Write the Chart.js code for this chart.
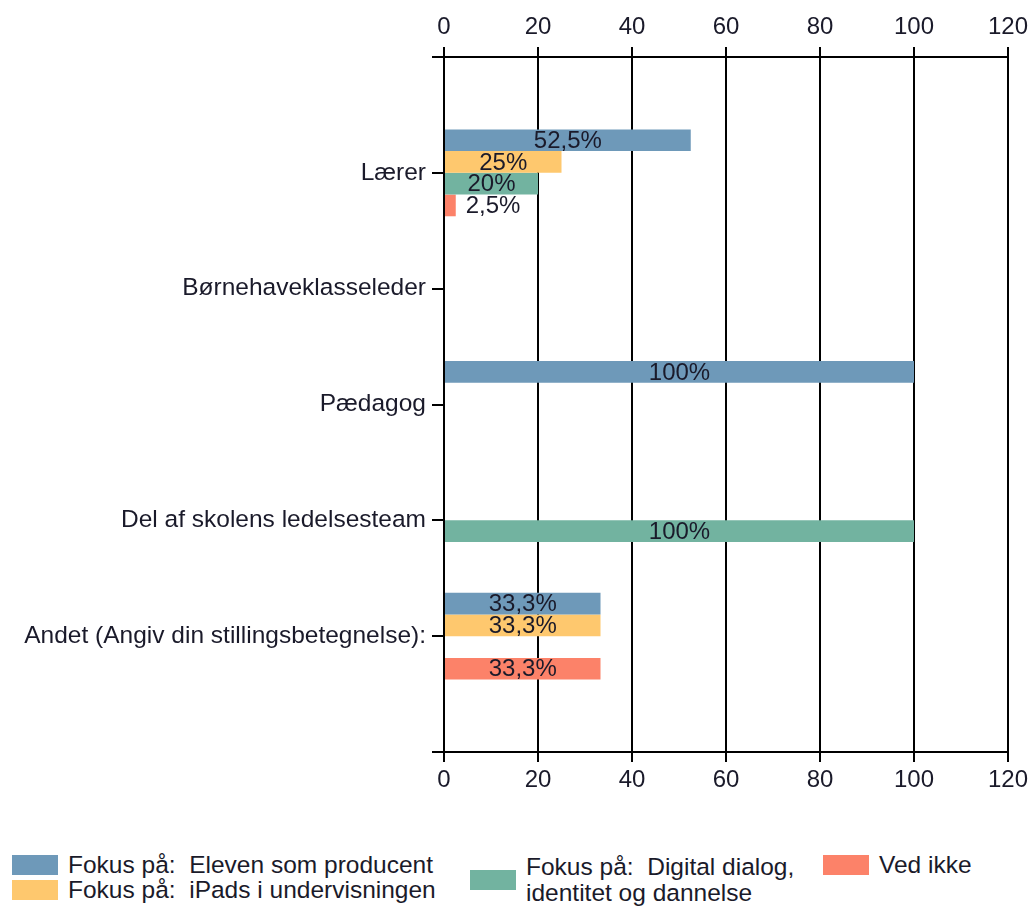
<!DOCTYPE html>
<html>
<head>
<meta charset="utf-8">
<script src="https://cdn.jsdelivr.net/npm/chart.js@4"></script>
<style>
  body { margin: 0; background: #fff; font-family: "Liberation Sans", Arial, sans-serif; }
  #wrap { position: relative; width: 1034px; height: 907px; }
  #box { position: absolute; left: 0; top: 0; width: 1034px; height: 815px; }
  #legend { position: absolute; left: 0; top: 850px; width: 1034px; height: 57px; font-size: 24.5px; color: #1a1a2a; }
  .item { position: absolute; display: flex; align-items: flex-start; line-height: 26px; white-space: pre; }
  .sw { width: 46px; height: 20px; margin-right: 10px; margin-top: 3px; flex: none; }
</style>
</head>
<body>
<div id="wrap">
  <div id="box"><canvas id="chart"></canvas></div>
  <div id="legend"></div>
</div>
<script>
const categories = ["Lærer", "Børnehaveklasseleder", "Pædagog", "Del af skolens ledelsesteam", "Andet (Angiv din stillingsbetegnelse):"];
const seriesNames = ["Fokus på:  Eleven som producent", "Fokus på:  iPads i undervisningen", "Fokus på:  Digital dialog,\nidentitet og dannelse", "Ved ikke"];
const elevenSomProducent = [52.5, 0, 100, 0, 33.3];
const iPadsIUndervisningen = [25, 0, 0, 0, 33.3];
const digitalDialog = [20, 0, 0, 100, 0];
const vedIkke = [2.5, 0, 0, 0, 33.3];
const colors = ["#6e99b9", "#fec86e", "#72b3a0", "#fc8269"];
const xTicks = [0, 20, 40, 60, 80, 100, 120];

// empty slots at both ends so the categories sit one step in from the axes
const labels = [""].concat(categories, [""]);
const pad = arr => [null].concat(arr, [null]);
const allSeries = [elevenSomProducent, iPadsIUndervisningen, digitalDialog, vedIkke];

const textColor = "#1a1a2a";
Chart.defaults.font.family = "'Liberation Sans', Arial, sans-serif";
Chart.defaults.color = textColor;

const barLabels = {
  id: "barLabels",
  afterDatasetsDraw(chart) {
    const ctx = chart.ctx;
    ctx.save();
    ctx.font = "24px 'Liberation Sans', Arial, sans-serif";
    ctx.fillStyle = textColor;
    ctx.textBaseline = "middle";
    chart.data.datasets.forEach((ds, i) => {
      chart.getDatasetMeta(i).data.forEach((bar, j) => {
        const v = ds.data[j];
        if (!v) return;
        const txt = String(v).replace(".", ",") + "%";
        const w = ctx.measureText(txt).width;
        const len = bar.x - bar.base;
        if (w + 4 < len) {
          ctx.textAlign = "center";
          ctx.fillText(txt, (bar.x + bar.base) / 2, bar.y + 1);
        } else {
          ctx.textAlign = "left";
          ctx.fillText(txt, bar.x + 10, bar.y + 1);
        }
      });
    });
    ctx.restore();
  }
};

new Chart(document.getElementById("chart"), {
  type: "bar",
  data: {
    labels: labels,
    datasets: allSeries.map((s, i) => ({
      label: seriesNames[i],
      data: pad(s),
      backgroundColor: colors[i],
      borderWidth: 0,
      categoryPercentage: 0.75,
      barPercentage: 1
    }))
  },
  options: {
    indexAxis: "y",
    responsive: true,
    maintainAspectRatio: false,
    animation: false,
    layout: { padding: { left: 10, right: 26, top: 0, bottom: 0 } },
    plugins: { legend: { display: false }, tooltip: { enabled: false } },
    scales: {
      x: {
        position: "bottom",
        min: 0, max: 120,
        afterBuildTicks: s => { s.ticks = xTicks.map(v => ({ value: v })); },
        ticks: { font: { size: 24 }, padding: 4, color: textColor },
        grid: { color: "#000", lineWidth: 2, tickLength: 10 },
        border: { color: "#000", width: 2 },
        afterFit: s => { s.height = 815 - 752; }
      },
      x2: {
        position: "top",
        axis: "x",
        min: 0, max: 120,
        afterBuildTicks: s => { s.ticks = xTicks.map(v => ({ value: v })); },
        ticks: { font: { size: 24 }, padding: 5, color: textColor },
        grid: { color: "#000", lineWidth: 2, tickLength: 10, drawOnChartArea: false },
        border: { color: "#000", width: 2 },
        afterFit: s => { s.height = 57; }
      },
      y: {
        offset: false,
        ticks: { font: { size: 24.5 }, padding: 6, color: textColor, autoSkip: false },
        grid: { offset: false, color: "#000", lineWidth: 2, tickLength: 12, drawOnChartArea: false },
        border: { display: false },
        afterFit: s => { s.width = 434; }
      }
    }
  },
  plugins: [barLabels]
});

// legend laid out in three columns like the original
const legendSpots = [
  { left: 12, top: 2 },
  { left: 12, top: 27 },
  { left: 470, top: 4 },
  { left: 823, top: 2 }
];
const legend = document.getElementById("legend");
seriesNames.forEach((t, i) => {
  const d = document.createElement("div");
  d.className = "item";
  d.style.left = legendSpots[i].left + "px";
  d.style.top = legendSpots[i].top + "px";
  const sw = document.createElement("div");
  sw.className = "sw";
  sw.style.background = colors[i];
  if (i === 2) sw.style.marginTop = "16px";
  const sp = document.createElement("span");
  sp.textContent = t;
  d.appendChild(sw);
  d.appendChild(sp);
  legend.appendChild(d);
});
</script>
</body>
</html>
